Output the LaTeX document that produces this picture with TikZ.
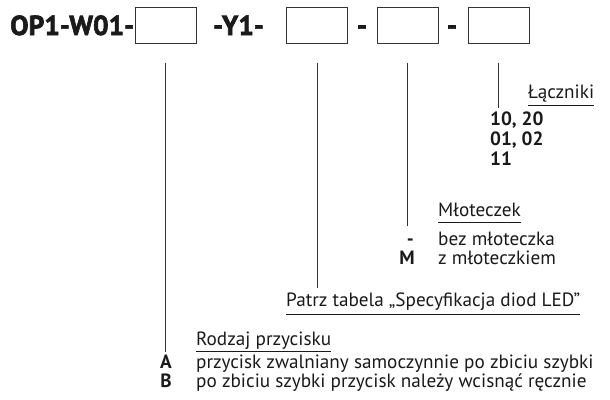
\documentclass[tikz,border=0pt]{standalone}
\usepackage{fontspec}
\setmainfont{PT Sans}
\newfontfamily\heavyfont[FakeBold=2.2]{PT Sans Bold}
\definecolor{ink}{HTML}{1A1A1A}
\definecolor{rule}{HTML}{333333}
\begin{document}
\begin{tikzpicture}[x=1pt,y=-1pt,
  code/.style={font=\fontsize{27.5}{30}\heavyfont, inner sep=0pt, anchor=base west, text=ink},
  slot/.style={draw=rule, line width=1pt, minimum width=61pt, minimum height=36pt, inner sep=0pt},
  lbl/.style={font=\fontsize{19.2}{22}\selectfont, inner sep=0pt, anchor=base west, text=ink},
  key/.style={font=\fontsize{19.2}{22}\selectfont\bfseries, inner sep=0pt, anchor=base east, text=ink},
  val/.style={font=\fontsize{19.2}{22}\selectfont\bfseries, inner sep=0pt, anchor=base west, text=ink},
  lead/.style={draw=rule, line width=0.9pt},
  uline/.style={draw=ink, line width=0.9pt}]
\useasboundingbox (0,0) rectangle (610,399);

% order code with empty slots
\node[code] (c1) at (10,35) {OP1-W01-};
\node[slot] (b1) at (165.5,25) {};
\node[code] (c2) at (213,35) {-Y1-};
\node[slot] (b2) at (317,25) {};
\node[code, anchor=base] (h1) at (362,35) {-};
\node[slot] (b3) at (407.5,25) {};
\node[code, anchor=base] (h2) at (452,35) {-};
\node[slot] (b4) at (498.5,25) {};

% leader ends
\coordinate (s1) at ([yshift=-19pt]b1.south);
\coordinate (s2) at ([yshift=-19pt]b2.south);
\coordinate (s3) at ([yshift=-19pt]b3.south);
\coordinate (s4) at ([yshift=-19pt]b4.south);
\coordinate (e1) at (165.5,352);
\coordinate (e2) at (317,288);
\coordinate (e3) at (407.5,226);
\coordinate (e4) at (498.5,108);
\draw[lead] (s1) -- (e1);
\draw[lead] (s2) -- (e2);
\draw[lead] (s3) -- (e3);
\draw[lead] (s4) -- (e4);

% contacts
\node[lbl] (t4) at (528,98) {Łączniki};
\draw[uline] ([yshift=-7pt]t4.base west) -- ([yshift=-7pt]t4.base east);
\node[val] (v41) at (490,125) {10, 20};
\node[val] (v42) at (490,145) {01, 02};
\node[val] (v43) at (490,165) {11};

% hammer
\node[lbl] (t3) at (438,216) {Młoteczek};
\draw[uline] ([yshift=-6pt]t3.base west) -- ([yshift=-6pt]t3.base east);
\node[key] (k31) at (414,245) {-};
\node[lbl] (v31) at (438,245) {bez młoteczka};
\node[key] (k32) at (415,264) {M};
\node[lbl] (v32) at (438,264) {z młoteczkiem};

% LED colour
\node[lbl] (t2) at (286,306) {Patrz tabela „Specyfikacja diod LED”};
\draw[uline] ([yshift=-8pt]t2.base west) -- ([yshift=-8pt]t2.base east);

% button type
\node[lbl] (t1) at (196,345) {Rodzaj przycisku};
\draw[uline] ([yshift=-6pt]t1.base west) -- ([yshift=-6pt]t1.base east);
\node[key] (k11) at (172,368) {A};
\node[lbl] (v11) at (196,368) {przycisk zwalniany samoczynnie po zbiciu szybki};
\node[key] (k12) at (172,387) {B};
\node[lbl] (v12) at (196,387) {po zbiciu szybki przycisk należy wcisnąć ręcznie};
\end{tikzpicture}
\end{document}
